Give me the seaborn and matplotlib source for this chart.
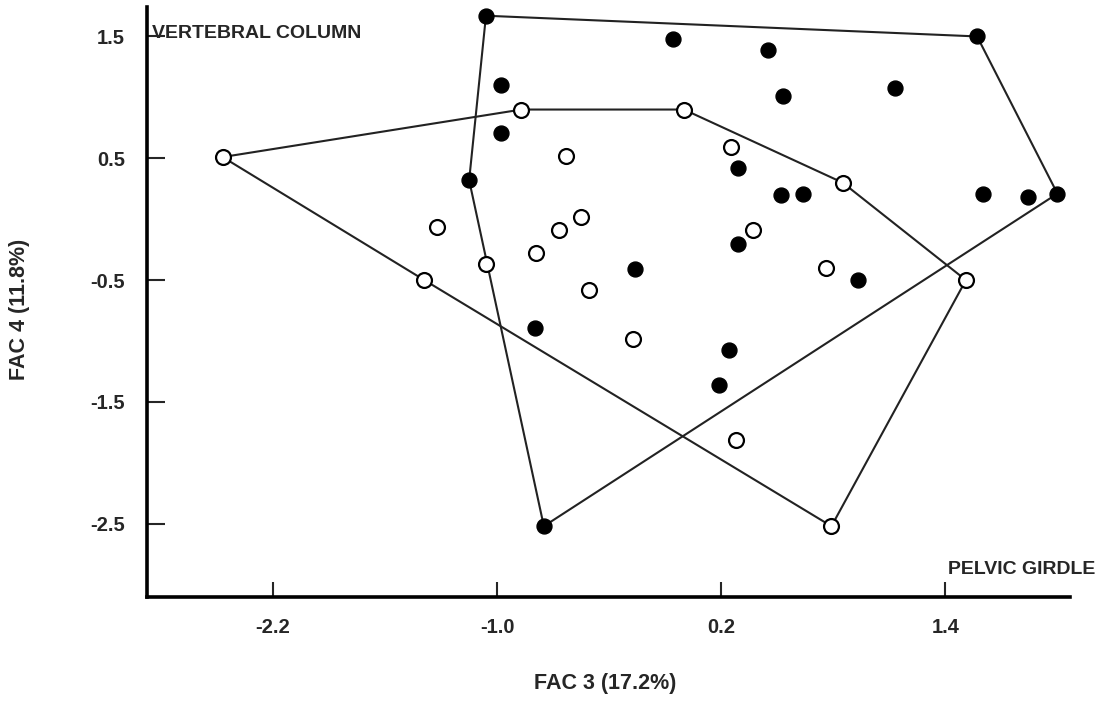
import numpy as np
import pandas as pd
import matplotlib
matplotlib.use("Agg")
import matplotlib.pyplot as plt
import seaborn as sns

# Open circles (pelvic girdle)
open_x = [-2.47, -0.87, 0.00, 0.85, 1.51, 0.79, -1.39, -0.63, -1.32, -0.55,
          -0.67, -0.79, -1.06, -0.51, 0.25, 0.37, 0.76, -0.27, 0.28]
open_y = [0.51, 0.90, 0.90, 0.30, -0.50, -2.52, -0.50, 0.52, -0.06, 0.02,
          -0.09, -0.28, -0.37, -0.58, 0.59, -0.09, -0.40, -0.98, -1.81]
open_hull = [0, 1, 2, 3, 4, 5, 6, 0]

# Filled circles (vertebral column)
fill_x = [-1.06, 1.57, 2.00, -0.75, -1.15, -0.98, -0.98, -0.06, 0.45, 1.13,
          0.53, 0.29, 0.52, 0.64, 1.60, 1.84, 0.29, -0.26, 0.93, -0.80,
          0.24, 0.19]
fill_y = [1.67, 1.50, 0.21, -2.52, 0.32, 1.10, 0.71, 1.48, 1.39, 1.08,
          1.01, 0.42, 0.20, 0.21, 0.21, 0.18, -0.20, -0.41, -0.50, -0.89,
          -1.07, -1.36]
fill_hull = [0, 1, 2, 3, 4, 0]

x_ticks = [-2.2, -1.0, 0.2, 1.4]
y_ticks = [1.5, 0.5, -0.5, -1.5, -2.5]
x_label = "FAC 3 (17.2%)"
y_label = "FAC 4 (11.8%)"

sns.set_theme(style="ticks")
plt.rcParams['font.family'] = ['Liberation Sans', 'DejaVu Sans']

fig = plt.figure(figsize=(11.02, 7.2), dpi=100)
ax = fig.add_axes([0.1334, 0.171, 0.838, 0.819])

oh = pd.DataFrame({"x": [open_x[i] for i in open_hull], "y": [open_y[i] for i in open_hull]})
fh = pd.DataFrame({"x": [fill_x[i] for i in fill_hull], "y": [fill_y[i] for i in fill_hull]})
sns.lineplot(data=oh, x="x", y="y", sort=False, estimator=None, color="#222222", lw=1.5, ax=ax, zorder=1)
sns.lineplot(data=fh, x="x", y="y", sort=False, estimator=None, color="#222222", lw=1.5, ax=ax, zorder=1)

sns.scatterplot(x=fill_x, y=fill_y, s=115, color="black", edgecolor="black", linewidth=1.0, ax=ax, zorder=3)
sns.scatterplot(x=open_x, y=open_y, s=115, color="white", edgecolor="black", linewidth=1.6, ax=ax, zorder=3)

ax.set_xlim(-2.875, 2.07)
ax.set_ylim(-3.1, 1.74)
ax.set_xticks(x_ticks)
ax.set_xticklabels([f"{v:.1f}" for v in x_ticks], fontweight="bold", fontsize=14.5)
ax.set_yticks(y_ticks)
ax.set_yticklabels([f"{v:.1f}" for v in y_ticks], fontweight="bold", fontsize=14.5)
ax.tick_params(axis="y", direction="in", length=13, width=1.5, pad=16)
ax.tick_params(axis="x", direction="in", length=11, width=1.5, pad=15)
for sp in ["top", "right"]:
    ax.spines[sp].set_visible(False)
for sp in ["left", "bottom"]:
    ax.spines[sp].set_linewidth(2.6)
    ax.spines[sp].set_color("black")

ax.set_xlabel("")
ax.set_ylabel("")
fig.text(0.549, 0.051, x_label, ha="center", va="center", fontsize=15.5, fontweight="bold")
fig.text(0.018, 0.57, y_label, ha="center", va="center", rotation=90, fontsize=15.5, fontweight="bold")

ax.text(0.005, 0.956, "VERTEBRAL COLUMN", transform=ax.transAxes, ha="left", va="center",
        fontsize=14, fontweight="semibold")
ax.text(1.027, 0.046, "PELVIC GIRDLE", transform=ax.transAxes, ha="right", va="center",
        fontsize=14, fontweight="semibold", clip_on=False)

fig.savefig("out.png", dpi=100)
